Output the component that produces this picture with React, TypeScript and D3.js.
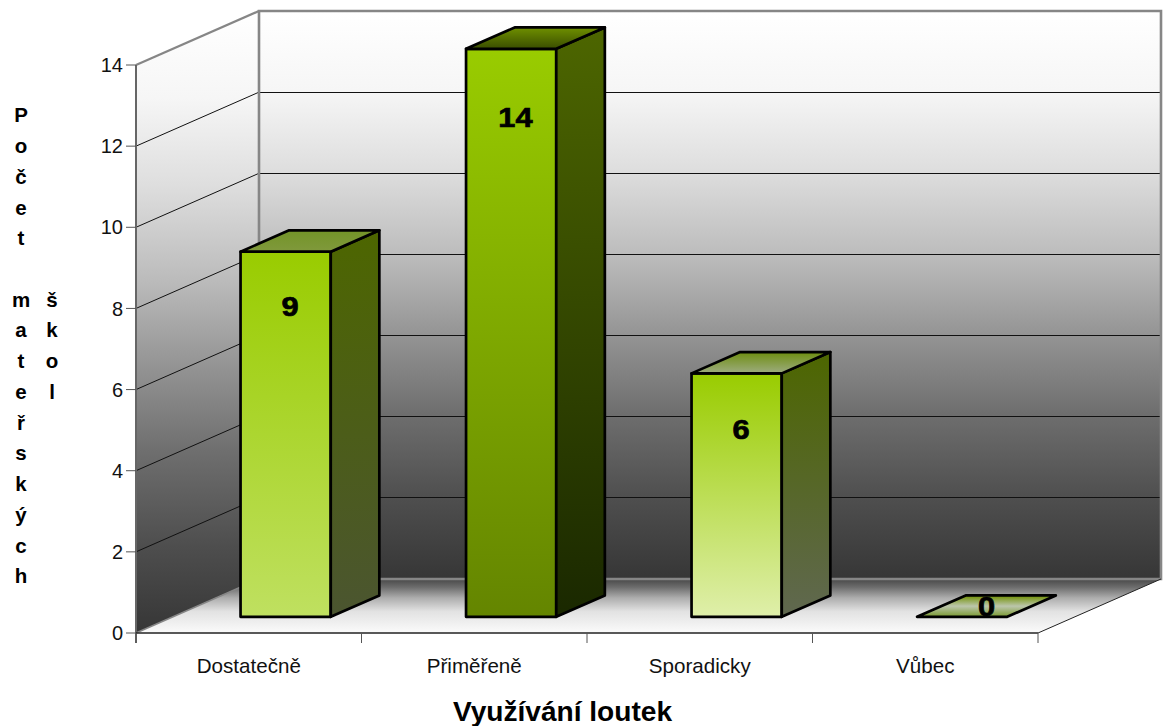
import React from "react";
import * as d3 from "d3";

const categories = ["Dostatečně", "Přiměřeně", "Sporadicky", "Vůbec"];
const values = [9, 14, 6, 0];
const yTicks = [0, 2, 4, 6, 8, 10, 12, 14];
const axisTitleColumns = [
  { letters: "Počet mateřských", x: 21 },
  { letters: "škol", x: 52, startRow: 6 },
];
const xTitle = "Využívání loutek";

const frontTop = "#99cc00";
const frontBottoms = ["#bfe060", "#648500", "#dfefaa", "#99cc00"];
const sideTop = "#4d6600";
const sideBottoms = ["#4b5530", "#1a2800", "#606850", "#4d6600"];
const topFaces = [
  ["#739428", "#80993c"],
  ["#6f9000", "#3a4d00"],
  ["#6e8e10", "#9dac80"],
  ["#7a9a30", "#7a9a30"],
];

const WIDTH = 1168;
const HEIGHT = 726;
const depthX = 123;
const depthY = 54;
const barDepthFront = 0.3;
const barDepthBack = 0.695;

const x = d3
  .scaleBand<string>()
  .domain(categories)
  .range([136, 1038])
  .paddingInner(0.6)
  .paddingOuter(0.3);
const y = d3.scaleLinear().domain([0, 14]).range([633, 65]);
const step = x.step();
const xLeft = 136;
const xRight = 1038;

const project = (px: number, v: number, d: number): [number, number] => [
  px + d * depthX,
  y(v) - d * depthY,
];
const poly = (pts: [number, number][]) => (d3.line()(pts) ?? "") + "Z";

const wallStops: [number, string][] = [
  [0, "#ffffff"],
  [0.14, "#f6f6f6"],
  [0.28, "#dedede"],
  [0.43, "#bcbcbc"],
  [0.57, "#949494"],
  [0.71, "#6e6e6e"],
  [0.86, "#4e4e4e"],
  [1, "#363636"],
];
const floorStops: [number, string][] = [
  [0, "#484848"],
  [0.15, "#6c6c6c"],
  [0.35, "#adadad"],
  [0.6, "#e2e2e2"],
  [1, "#fbfbfb"],
];

const labelGap = (v: number) => (v === 14 ? 52 : v === 9 ? 38 : 40);

export default function App() {
  const font = "'Liberation Sans', Arial, sans-serif";
  return (
    <svg
      width={WIDTH}
      height={HEIGHT}
      viewBox={`0 0 ${WIDTH} ${HEIGHT}`}
      style={{ display: "block", position: "absolute", left: 0, top: 0 }}
      fontFamily={font}
    >
      <defs>
        <linearGradient id="wall" x1="0" y1="0" x2="0" y2="1">
          {wallStops.map(([o, c]) => (
            <stop key={o} offset={o} stopColor={c} />
          ))}
        </linearGradient>
        <linearGradient id="floor" x1="0" y1="0" x2="0" y2="1">
          {floorStops.map(([o, c]) => (
            <stop key={o} offset={o} stopColor={c} />
          ))}
        </linearGradient>
        {categories.map((c, i) => (
          <React.Fragment key={c}>
            <linearGradient id={`front${i}`} x1="0" y1="0" x2="0" y2="1">
              <stop offset="0" stopColor={frontTop} />
              <stop offset="1" stopColor={frontBottoms[i]} />
            </linearGradient>
            <linearGradient id={`side${i}`} x1="0" y1="0" x2="0" y2="1">
              <stop offset="0" stopColor={sideTop} />
              <stop offset="1" stopColor={sideBottoms[i]} />
            </linearGradient>
            <linearGradient id={`top${i}`} x1="0" y1="0" x2="0" y2="1">
              <stop offset="0" stopColor={topFaces[i][0]} />
              <stop offset="1" stopColor={topFaces[i][1]} />
            </linearGradient>
          </React.Fragment>
        ))}
        <linearGradient id="zeroTop" x1="0" y1="0" x2="0" y2="1">
          <stop offset="0" stopColor="#6f9000" />
          <stop offset="0.5" stopColor="#bcc6ac" />
          <stop offset="1" stopColor="#7a9a30" />
        </linearGradient>
      </defs>

      {/* left wall */}
      <path
        d={poly([
          project(xLeft, 14, 0),
          project(xLeft, 14, 1),
          project(xLeft, 0, 1),
          project(xLeft, 0, 0),
        ])}
        fill="url(#wall)"
      />
      {/* back wall */}
      <path
        d={poly([
          project(xLeft, 14, 1),
          project(xRight, 14, 1),
          project(xRight, 0, 1),
          project(xLeft, 0, 1),
        ])}
        fill="url(#wall)"
      />
      {/* floor */}
      <path
        d={poly([
          project(xLeft, 0, 1),
          project(xRight, 0, 1),
          project(xRight, 0, 0),
          project(xLeft, 0, 0),
        ])}
        fill="url(#floor)"
      />

      {/* gridlines */}
      {yTicks
        .filter((t) => t > 0 && t < 14)
        .map((t) => {
          const a = project(xLeft, t, 0);
          const b = project(xLeft, t, 1);
          const c = project(xRight, t, 1);
          return (
            <g key={t}>
              <path d={d3.line()([a, b]) ?? ""} fill="none" stroke="#111" strokeWidth={1} />
              <path
                d={d3.line()([b, c]) ?? ""}
                fill="none"
                stroke="#111"
                strokeWidth={1}
                shapeRendering="crispEdges"
              />
            </g>
          );
        })}

      {/* wall frame */}
      <path
        d={d3.line()([
          project(xLeft, 0, 1),
          project(xLeft, 14, 1),
          project(xRight, 14, 1),
          project(xRight, 0, 1),
          project(xLeft, 0, 1),
        ]) ?? ""}
        fill="none"
        stroke="#868686"
        strokeWidth={2.6}
      />
      <path
        d={d3.line()([project(xLeft, 14, 1), project(xLeft, 14, 0)]) ?? ""}
        fill="none"
        stroke="#868686"
        strokeWidth={2.2}
      />
      <path
        d={d3.line()([project(xLeft, 0, 0), project(xLeft, 0, 1)]) ?? ""}
        fill="none"
        stroke="#868686"
        strokeWidth={1.6}
      />
      <path
        d={d3.line()([project(xRight, 0, 1), project(xRight, 0, 0)]) ?? ""}
        fill="none"
        stroke="#222"
        strokeWidth={1}
      />

      {/* front axes */}
      <line x1={xLeft} x2={xLeft} y1={y(14)} y2={y(0) + 10} stroke="#666" strokeWidth={2} />
      <line x1={xLeft} x2={xRight} y1={y(0)} y2={y(0)} stroke="#222" strokeWidth={1.5} />
      {d3.range(categories.length + 1).map((i) => (
        <line
          key={i}
          x1={xLeft + i * step}
          x2={xLeft + i * step}
          y1={y(0)}
          y2={y(0) + 10}
          stroke="#555"
          strokeWidth={1}
        />
      ))}
      {yTicks.map((t) => (
        <g key={t}>
          <line x1={xLeft - 10} x2={xLeft} y1={y(t)} y2={y(t)} stroke="#555" strokeWidth={1} />
          <text x={xLeft - 13} y={y(t)} dy="0.36em" textAnchor="end" fontSize={20} fill="#111">
            {t}
          </text>
        </g>
      ))}

      {/* bars */}
      {categories.map((c, i) => {
        const v = values[i];
        const x0 = x(c)!;
        const x1 = x0 + x.bandwidth();
        const ftl = project(x0, v, barDepthFront);
        const ftr = project(x1, v, barDepthFront);
        const fbl = project(x0, 0, barDepthFront);
        const fbr = project(x1, 0, barDepthFront);
        const btl = project(x0, v, barDepthBack);
        const btr = project(x1, v, barDepthBack);
        const bbr = project(x1, 0, barDepthBack);
        const common = { stroke: "#000", strokeWidth: 2.7, strokeLinejoin: "round" as const };
        return (
          <g key={c}>
            {v > 0 && <path d={poly([ftl, ftr, fbr, fbl])} fill={`url(#front${i})`} {...common} />}
            {v > 0 && <path d={poly([ftr, btr, bbr, fbr])} fill={`url(#side${i})`} {...common} />}
            <path
              d={poly([ftl, btl, btr, ftr])}
              fill={v > 0 ? `url(#top${i})` : "url(#zeroTop)"}
              {...common}
            />
          </g>
        );
      })}

      {/* value labels */}
      {categories.map((c, i) => {
        const v = values[i];
        const [lx] = project(x(c)! + x.bandwidth() / 2, v, (barDepthFront + barDepthBack) / 2);
        const cx = v === 0 ? lx : lx - 20;
        const cy = v === 0 ? y(0) - 27 : y(v) + labelGap(v);
        return (
          <text
            key={c}
            transform={`translate(${cx},${cy}) scale(1.14,1)`}
            dy="0.36em"
            textAnchor="middle"
            fontSize={27}
            fontWeight="bold"
            fill="#000"
            stroke="#000"
            strokeWidth={0.7}
          >
            {v}
          </text>
        );
      })}

      {/* category labels */}
      {categories.map((c) => (
        <text
          key={c}
          x={x(c)! + x.bandwidth() / 2}
          y={y(0) + 33}
          dy="0.36em"
          textAnchor="middle"
          fontSize={20.6}
          fill="#111"
        >
          {c}
        </text>
      ))}

      {/* x title */}
      <text x={562.5} y={711} dy="0.36em" textAnchor="middle" fontSize={28.1} fontWeight="bold" fill="#000">
        {xTitle}
      </text>

      {/* y title, stacked letter by letter */}
      {axisTitleColumns.map((col) =>
        Array.from(col.letters).map((ch, k) =>
          ch === " " ? null : (
            <text
              key={`${col.x}-${k}`}
              x={col.x}
              y={115 + ((col.startRow ?? 0) + k) * 30.73}
              dy="0.36em"
              textAnchor="middle"
              fontSize={20.5}
              fontWeight="bold"
              fill="#000"
            >
              {ch}
            </text>
          )
        )
      )}
    </svg>
  );
}
